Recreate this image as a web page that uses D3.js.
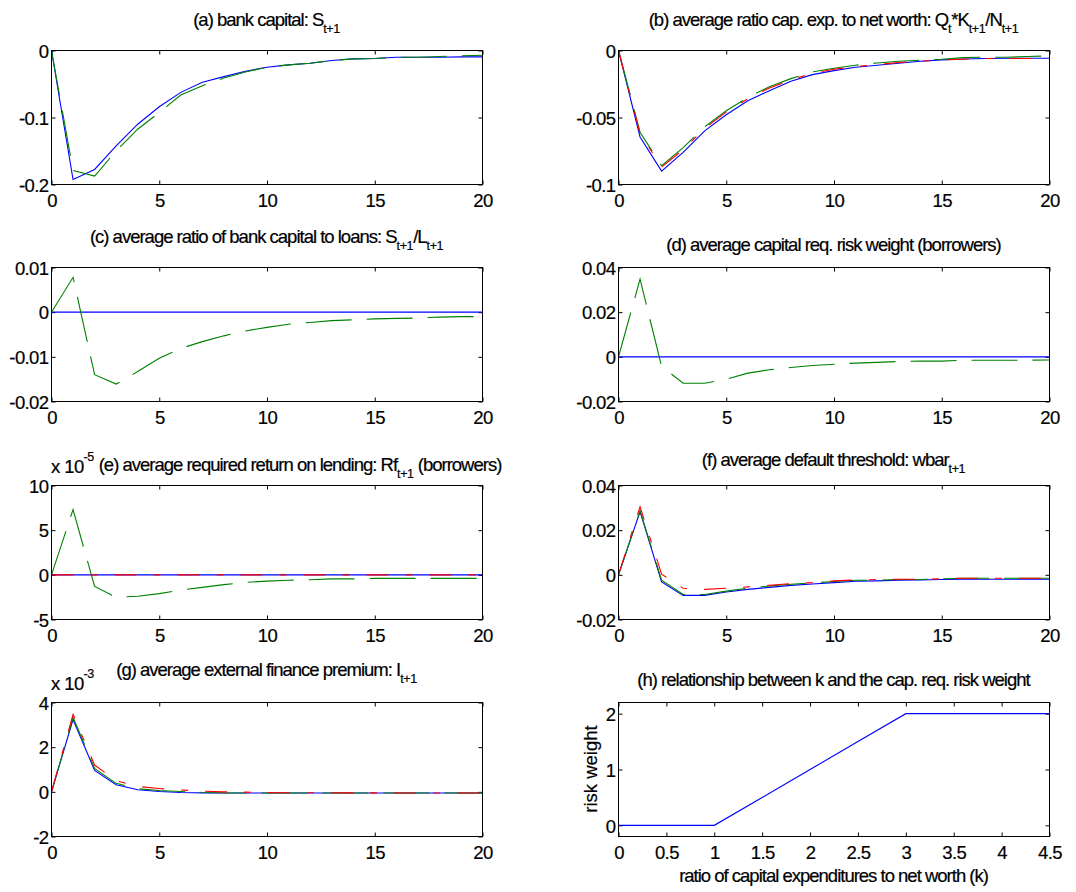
<!DOCTYPE html>
<html>
<head>
<meta charset="utf-8">
<script src="https://cdn.jsdelivr.net/npm/d3@7"></script>
<style>
  body { margin: 0; background: #ffffff; }
  svg text { font-family: "Liberation Sans", Arial, Helvetica, sans-serif; fill: #000; stroke: #000; stroke-width: 0.2px; }
</style>
</head>
<body>
<svg id="chart" width="1076" height="892"></svg>
<script>
// ---------------- data ----------------
const periods = [0,1,2,3,4,5,6,7,8,9,10,11,12,13,14,15,16,17,18,19,20];
const periodTicks = [0,5,10,15,20];
const periodTickLabels = ["0","5","10","15","20"];

// (a) bank capital
const bankCapitalBlue  = [0,-0.1925,-0.1775,-0.1425,-0.110,-0.084,-0.0625,-0.0475,-0.039,-0.031,-0.025,-0.0215,-0.019,-0.015,-0.0125,-0.012,-0.010,-0.010,-0.010,-0.0095,-0.0095];
const bankCapitalGreen = [0,-0.179,-0.1875,-0.150,-0.1175,-0.0925,-0.0665,-0.0525,-0.041,-0.032,-0.025,-0.0215,-0.019,-0.015,-0.0125,-0.012,-0.010,-0.010,-0.009,-0.008,-0.007];
const bankCapitalTicks = [0,-0.1,-0.2];
const bankCapitalTickLabels = ["0","-0.1","-0.2"];

// (b) ratio capital expenditure to net worth
const capExpBlue  = [0,-0.0645,-0.090,-0.076,-0.060,-0.048,-0.0375,-0.030,-0.023,-0.018,-0.015,-0.0125,-0.011,-0.0095,-0.008,-0.007,-0.0063,-0.006,-0.0058,-0.0058,-0.0058];
const capExpGreen = [0,-0.061,-0.086,-0.0725,-0.057,-0.045,-0.035,-0.027,-0.021,-0.016,-0.0133,-0.011,-0.0093,-0.008,-0.0073,-0.0065,-0.0053,-0.005,-0.005,-0.0045,-0.004];
const capExpRed   = [0,-0.062,-0.087,-0.074,-0.058,-0.046,-0.036,-0.028,-0.022,-0.017,-0.014,-0.012,-0.0105,-0.009,-0.008,-0.007,-0.0065,-0.006,-0.006,-0.006,-0.006];
const capExpTicks = [0,-0.05,-0.1];
const capExpTickLabels = ["0","-0.05","-0.1"];

// (c) ratio of bank capital to loans
const capLoansBlue  = [0,0,0,0,0,0,0,0,0,0,0,0,0,0,0,0,0,0,0,0,0];
const capLoansGreen = [0,0.0078,-0.014,-0.0161,-0.0133,-0.0103,-0.0081,-0.0066,-0.0053,-0.0042,-0.0034,-0.0027,-0.0023,-0.0019,-0.0017,-0.0015,-0.0014,-0.0013,-0.0011,-0.001,-0.001];
const capLoansTicks = [0.01,0,-0.01,-0.02];
const capLoansTickLabels = ["0.01","0","-0.01","-0.02"];

// (d) capital requirement risk weight
const riskWeightBlue  = [0,0,0,0,0,0,0,0,0,0,0,0,0,0,0,0,0,0,0,0,0];
const riskWeightGreen = [0,0.0348,-0.0043,-0.0118,-0.0118,-0.010,-0.0073,-0.0058,-0.0048,-0.0039,-0.0033,-0.0028,-0.0025,-0.0021,-0.0019,-0.0019,-0.0015,-0.0015,-0.0015,-0.0015,-0.0014];
const riskWeightTicks = [0.04,0.02,0,-0.02];
const riskWeightTickLabels = ["0.04","0.02","0","-0.02"];

// (e) required return on lending
const reqReturnBlue  = [0,0,0,0,0,0,0,0,0,0,0,0,0,0,0,0,0,0,0,0,0];
const reqReturnRed   = [0,0,0,0,0,0,0,0,0,0,0,0,0,0,0,0,0,0,0,0,0];
const reqReturnGreen = [0,7.3e-5,-1.3e-5,-2.5e-5,-2.4e-5,-2.1e-5,-1.7e-5,-1.4e-5,-1.1e-5,-0.85e-5,-0.7e-5,-0.6e-5,-0.55e-5,-0.45e-5,-0.45e-5,-0.4e-5,-0.4e-5,-0.4e-5,-0.4e-5,-0.4e-5,-0.4e-5];
const reqReturnTicks = [10e-5,5e-5,0,-5e-5];
const reqReturnTickLabels = ["10","5","0","-5"];

// (f) default threshold
const defaultBlue  = [0,0.0283,-0.0032,-0.0092,-0.0092,-0.0077,-0.0065,-0.0056,-0.0047,-0.0041,-0.0035,-0.0029,-0.0027,-0.0024,-0.0023,-0.0021,-0.002,-0.002,-0.002,-0.002,-0.002];
const defaultGreen = [0,0.0287,-0.0024,-0.0088,-0.0088,-0.0073,-0.006,-0.005,-0.0042,-0.0036,-0.003,-0.0024,-0.0024,-0.0021,-0.0021,-0.0018,-0.0015,-0.0015,-0.0015,-0.0015,-0.0015];
const defaultRed   = [0,0.0305,0.0003,-0.006,-0.0065,-0.006,-0.0054,-0.0047,-0.0039,-0.0035,-0.0027,-0.0023,-0.0021,-0.002,-0.002,-0.0018,-0.0015,-0.0015,-0.0015,-0.0015,-0.0015];
const defaultTicks = [0.04,0.02,0,-0.02];
const defaultTickLabels = ["0.04","0.02","0","-0.02"];

// (g) external finance premium
const premiumBlue  = [0,3.24e-3,0.96e-3,0.32e-3,0.09e-3,0.015e-3,-0.03e-3,-0.045e-3,-0.05e-3,-0.05e-3,-0.05e-3,-0.05e-3,-0.05e-3,-0.05e-3,-0.05e-3,-0.05e-3,-0.05e-3,-0.05e-3,-0.05e-3,-0.05e-3,-0.05e-3];
const premiumGreen = [0,3.33e-3,1.05e-3,0.38e-3,0.14e-3,0.06e-3,0.015e-3,-0.03e-3,-0.05e-3,-0.05e-3,-0.05e-3,-0.05e-3,-0.05e-3,-0.05e-3,-0.05e-3,-0.05e-3,-0.05e-3,-0.05e-3,-0.05e-3,-0.05e-3,-0.05e-3];
const premiumRed   = [0,3.47e-3,1.2e-3,0.5e-3,0.24e-3,0.15e-3,0.08e-3,0.03e-3,0,-0.015e-3,-0.03e-3,-0.04e-3,-0.04e-3,-0.04e-3,-0.045e-3,-0.045e-3,-0.05e-3,-0.05e-3,-0.05e-3,-0.05e-3,-0.05e-3];
const premiumTicks = [4e-3,2e-3,0,-2e-3];
const premiumTickLabels = ["4","2","0","-2"];

// (h) relationship between k and risk weight
const kValues = [0,0.5,1,1.5,2,2.5,3,3.5,4,4.5];
const kRiskWeight = [0,0,0,0.5,1,1.5,2,2,2,2];
const kTickLabels = ["0","0.5","1","1.5","2","2.5","3","3.5","4","4.5"];
const kWeightTicks = [0,1,2];
const kWeightTickLabels = ["0","1","2"];

// ---------------- layout / style ----------------
const FS = 18.5, SUBFS = 12.5;
const TITLE_LS = -1, TICK_LS = -0.6, SUB_LS = -0.4;
const colLeft = [51, 618], rowTop = [50, 267, 485, 702];
const W = 431, H = 134;
const BLUE = "#0000ff", GREEN = "#008000", RED = "#ff0000";
const GREEN_DASH = "46,15", RED_DASH = "22,17,7,17";

const svg = d3.select("#chart");

function richText(parent, str, x, y, anchor, rotate, ls) {
  const g = parent.append("g")
    .attr("transform", `translate(${x},${y})${rotate ? " rotate(" + rotate + ")" : ""}`);
  const t = g.append("text").attr("text-anchor", anchor).attr("font-size", FS)
    .attr("letter-spacing", ls == null ? TITLE_LS : ls);
  const re = /([_^])\{([^}]*)\}/g;
  let last = 0, m, shift = 0;
  while ((m = re.exec(str)) !== null) {
    if (m.index > last) {
      t.append("tspan").attr("dy", -shift).text(str.slice(last, m.index));
      shift = 0;
    }
    const s = m[1] === "_" ? 7.3 : -12;
    t.append("tspan").attr("font-size", SUBFS).attr("letter-spacing", SUB_LS)
      .attr("dy", s - shift).text(m[2]);
    shift = s;
    last = re.lastIndex;
  }
  if (last < str.length) t.append("tspan").attr("dy", -shift).text(str.slice(last));
  return g;
}

function drawPanel(p) {
  const left = colLeft[p.col], top = rowTop[p.row];
  const g = svg.append("g").attr("transform", `translate(${left + 0.5},${top + 0.5})`);
  const x = d3.scaleLinear().domain(p.xDomain).range([0, W]);
  const y = d3.scaleLinear().domain(p.yDomain).range([H, 0]);

  const xl = v => p.xLabels[p.xTicks.indexOf(v)];
  const yl = v => p.yLabels[p.yTicks.indexOf(v)];

  const styleAxis = (sel) => {
    sel.select(".domain").remove();
    sel.attr("font-size", null).attr("font-family", null);
    sel.selectAll(".tick line").attr("stroke", "#000").attr("stroke-width", 1);
  };

  g.append("g").attr("transform", `translate(0,${H})`)
    .call(d3.axisBottom(x).tickValues(p.xTicks).tickFormat(xl).tickSizeInner(-4).tickSizeOuter(0).tickPadding(9.5))
    .call(styleAxis)
    .selectAll("text").attr("font-size", FS).attr("letter-spacing", TICK_LS);
  g.append("g")
    .call(d3.axisTop(x).tickValues(p.xTicks).tickFormat("").tickSizeInner(-4).tickSizeOuter(0))
    .call(styleAxis);
  g.append("g")
    .call(d3.axisLeft(y).tickValues(p.yTicks).tickFormat(yl).tickSizeInner(-4).tickSizeOuter(0).tickPadding(3))
    .call(styleAxis)
    .selectAll("text").attr("font-size", FS).attr("dy", "0.36em").attr("letter-spacing", TICK_LS);
  g.append("g").attr("transform", `translate(${W},0)`)
    .call(d3.axisRight(y).tickValues(p.yTicks).tickFormat("").tickSizeInner(-4).tickSizeOuter(0))
    .call(styleAxis);

  const line = d3.line().x((d, i) => x(p.xs[i])).y(d => y(d));
  p.series.forEach(s => {
    g.append("path").datum(s.values)
      .attr("fill", "none").attr("stroke", s.color).attr("stroke-width", 1.1)
      .attr("stroke-dasharray", s.dash || null)
      .attr("d", line);
  });

  g.append("rect").attr("x", 0).attr("y", 0).attr("width", W).attr("height", H)
    .attr("fill", "none").attr("stroke", "#000").attr("stroke-width", 1);

  richText(svg, p.title, p.titleX != null ? p.titleX : left + W / 2, p.titleY, "middle");
  if (p.exponent) richText(svg, p.exponent, left, top - 12, "start", null, TICK_LS);
  if (p.xLabel) richText(svg, p.xLabel, left + W / 2, p.xLabelY, "middle");
  if (p.yLabel) richText(svg, p.yLabel, left - 21, top + H / 2, "middle", -90, 0);
}

const tsPanel = (col, row, title, titleY, yDomain, yTicks, yLabels, series, extra) =>
  Object.assign({ col, row, title, titleY, xDomain: [0, 20], xTicks: periodTicks, xLabels: periodTickLabels,
    xs: periods, yDomain, yTicks, yLabels, series }, extra || {});

const panels = [
  tsPanel(0, 0, "(a) bank capital: S_{t+1}", 26, [-0.2, 0], bankCapitalTicks, bankCapitalTickLabels, [
    { values: bankCapitalBlue, color: BLUE },
    { values: bankCapitalGreen, color: GREEN, dash: GREEN_DASH }]),
  tsPanel(1, 0, "(b) average ratio cap. exp. to net worth: Q_{t}*K_{t+1}/N_{t+1}", 26, [-0.1, 0], capExpTicks, capExpTickLabels, [
    { values: capExpBlue, color: BLUE },
    { values: capExpGreen, color: GREEN, dash: GREEN_DASH },
    { values: capExpRed, color: RED, dash: RED_DASH }]),
  tsPanel(0, 1, "(c) average ratio of bank capital to loans: S_{t+1}/L_{t+1}", 243, [-0.02, 0.01], capLoansTicks, capLoansTickLabels, [
    { values: capLoansBlue, color: BLUE },
    { values: capLoansGreen, color: GREEN, dash: GREEN_DASH }]),
  tsPanel(1, 1, "(d) average capital req. risk weight (borrowers)", 251, [-0.02, 0.04], riskWeightTicks, riskWeightTickLabels, [
    { values: riskWeightBlue, color: BLUE },
    { values: riskWeightGreen, color: GREEN, dash: GREEN_DASH }]),
  tsPanel(0, 2, "(e) average required return on lending: Rf_{t+1} (borrowers)", 471, [-5e-5, 10e-5], reqReturnTicks, reqReturnTickLabels, [
    { values: reqReturnBlue, color: BLUE },
    { values: reqReturnGreen, color: GREEN, dash: GREEN_DASH },
    { values: reqReturnRed, color: RED, dash: RED_DASH }], { titleX: 300, exponent: "x 10^{-5}" }),
  tsPanel(1, 2, "(f) average default threshold: wbar_{t+1}", 466, [-0.02, 0.04], defaultTicks, defaultTickLabels, [
    { values: defaultBlue, color: BLUE },
    { values: defaultGreen, color: GREEN, dash: GREEN_DASH },
    { values: defaultRed, color: RED, dash: RED_DASH }]),
  tsPanel(0, 3, "(g) average external finance premium: I_{t+1}", 676, [-2e-3, 4e-3], premiumTicks, premiumTickLabels, [
    { values: premiumBlue, color: BLUE },
    { values: premiumGreen, color: GREEN, dash: GREEN_DASH },
    { values: premiumRed, color: RED, dash: RED_DASH }], { exponent: "x 10^{-3}" }),
  { col: 1, row: 3, title: "(h) relationship between k and the cap. req. risk weight", titleY: 686,
    xDomain: [0, 4.5], xTicks: kValues, xLabels: kTickLabels, xs: kValues,
    yDomain: [-0.2, 2.2], yTicks: kWeightTicks, yLabels: kWeightTickLabels,
    series: [{ values: kRiskWeight, color: BLUE }],
    xLabel: "ratio of capital expenditures to net worth (k)", xLabelY: 882, yLabel: "risk weight" }
];

panels.forEach(drawPanel);
</script>
</body>
</html>
